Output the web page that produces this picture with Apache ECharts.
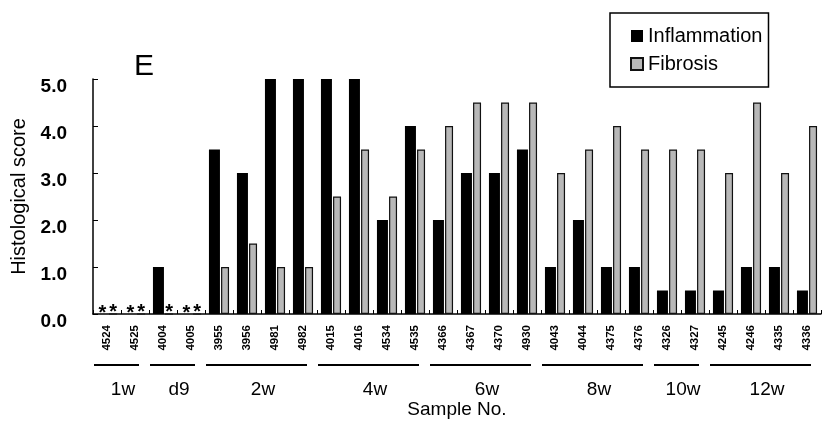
<!DOCTYPE html>
<html>
<head>
<meta charset="utf-8">
<title>Histological score</title>
<style>
  html, body { margin: 0; padding: 0; background: #fff; }
  #main { width: 840px; height: 424px; }
</style>
</head>
<body>
<div id="main"></div>
<script src="https://cdn.jsdelivr.net/npm/echarts@6/dist/echarts.min.js"></script>
<script type="text/javascript">
  // sample numbers along the x axis
  var samples = ['4524', '4525', '4004', '4005', '3955', '3956', '4981', '4982',
                 '4015', '4016', '4534', '4535', '4366', '4367', '4370', '4930',
                 '4043', '4044', '4375', '4376', '4326', '4327', '4245', '4246',
                 '4335', '4336'];
  var inflammation = [0, 0, 1.0, 0, 3.5, 3.0, 5.0, 5.0,
                      5.0, 5.0, 2.0, 4.0, 2.0, 3.0, 3.0, 3.5,
                      1.0, 2.0, 1.0, 1.0, 0.5, 0.5, 0.5, 1.0,
                      1.0, 0.5];
  var fibrosis = [0, 0, 0, 0, 1.0, 1.5, 1.0, 1.0,
                  2.5, 3.5, 2.5, 3.5, 4.0, 4.5, 4.5, 4.5,
                  3.0, 3.5, 4.0, 3.5, 3.5, 3.5, 3.0, 4.5,
                  3.0, 4.0];
  // time point groups under the sample numbers
  var groupNames = ['1w', 'd9', '2w', '4w', '6w', '8w', '10w', '12w'];
  var groupSizes = [2, 2, 4, 4, 4, 4, 2, 4];
  var yTicks = [0, 1, 2, 3, 4, 5];

  var font = 'Liberation Sans, Arial, Helvetica, sans-serif';

  // start / end sample index of every group
  var groupData = [];
  var idx = 0;
  for (var i = 0; i < groupSizes.length; i++) {
    groupData.push([idx, idx + groupSizes[i] - 1, 0]);
    idx += groupSizes[i];
  }

  // zero scores are marked with an asterisk
  function starLabel(p) {
    return p.value === 0 ? '*' : '';
  }

  var myChart = echarts.init(document.getElementById('main'), null, {renderer: 'canvas'});

  var option = {
    backgroundColor: '#fff',
    animation: false,
    title: {
      text: 'E',
      left: 129,
      top: 47,
      textStyle: { fontFamily: font, fontSize: 30, fontWeight: 'normal', color: '#000' }
    },
    legend: {
      data: ['Inflammation', 'Fibrosis'],
      orient: 'vertical',
      left: 610,
      top: 13,
      padding: [13, 6, 13, 20],
      itemWidth: 12,
      itemHeight: 12,
      itemGap: 8,
      borderColor: '#000',
      borderWidth: 1.5,
      borderRadius: 0,
      icon: 'rect',
      textStyle: { fontFamily: font, fontSize: 20, color: '#000' }
    },
    grid: {
      left: 93,
      top: 79,
      width: 728,
      bottom: 103,
      containLabel: false
    },
    xAxis: {
      type: 'category',
      data: samples,
      name: 'Sample No.',
      nameLocation: 'middle',
      nameGap: 86,
      nameTextStyle: { fontFamily: font, fontSize: 19, color: '#000' },
      axisLine: { lineStyle: { color: '#000', width: 1.5 } },
      axisTick: { show: true, inside: true, length: 4, lineStyle: { color: '#000' } },
      axisLabel: {
        rotate: 90,
        margin: 11,
        fontFamily: font,
        fontSize: 11.5,
        fontWeight: 'bold',
        color: '#000'
      },
      splitLine: { show: false }
    },
    yAxis: {
      type: 'value',
      min: yTicks[0],
      max: yTicks[yTicks.length - 1],
      interval: 1,
      name: 'Histological score',
      nameLocation: 'middle',
      nameGap: 62,
      nameTextStyle: { fontFamily: font, fontSize: 20, color: '#000' },
      axisLine: { show: true, lineStyle: { color: '#000', width: 1.5 } },
      axisTick: { show: true, inside: true, length: 5, lineStyle: { color: '#000' } },
      axisLabel: {
        margin: 26,
        fontFamily: font,
        fontSize: 19,
        fontWeight: 'bold',
        color: '#000',
        verticalAlign: 'top',
        lineHeight: 16,
        formatter: function (v) { return v.toFixed(1); }
      },
      splitLine: { show: false }
    },
    series: [
      {
        name: 'Inflammation',
        type: 'bar',
        barWidth: 11,
        barGap: '10%',
        data: inflammation,
        itemStyle: { color: '#000' },
        label: {
          show: true,
          position: 'top',
          distance: 0,
          offset: [0, 9],
          formatter: starLabel,
          fontFamily: font,
          fontSize: 20,
          fontWeight: 'bold',
          color: '#000'
        }
      },
      {
        name: 'Fibrosis',
        type: 'bar',
        barWidth: 8,
        barGap: '10%',
        data: fibrosis,
        itemStyle: { color: '#b8b8b8', borderColor: '#111', borderWidth: 1.2 },
        label: {
          show: true,
          position: 'top',
          distance: 0,
          offset: [0, 9],
          formatter: starLabel,
          fontFamily: font,
          fontSize: 20,
          fontWeight: 'bold',
          color: '#000'
        }
      },
      {
        // group underlines and names drawn from the category axis
        type: 'custom',
        silent: true,
        clip: false,
        encode: { x: [0, 1], y: 2 },
        data: groupData,
        renderItem: function (params, api) {
          var p0 = api.coord([api.value(0), 0]);
          var p1 = api.coord([api.value(1), 0]);
          var bw = api.size([1, 0])[0];
          var y = p0[1] + 51;
          return {
            type: 'group',
            children: [
              {
                type: 'line',
                shape: { x1: p0[0] - bw / 2 + 1, y1: y, x2: p1[0] + 4, y2: y },
                style: { stroke: '#000', lineWidth: 2 }
              },
              {
                type: 'text',
                x: (p0[0] + p1[0]) / 2 + 2,
                y: y + 25,
                style: {
                  text: groupNames[params.dataIndex],
                  fontFamily: font,
                  fontSize: 19,
                  fill: '#000',
                  align: 'center',
                  verticalAlign: 'middle'
                }
              }
            ]
          };
        }
      }
    ]
  };

  myChart.setOption(option);
</script>
</body>
</html>
